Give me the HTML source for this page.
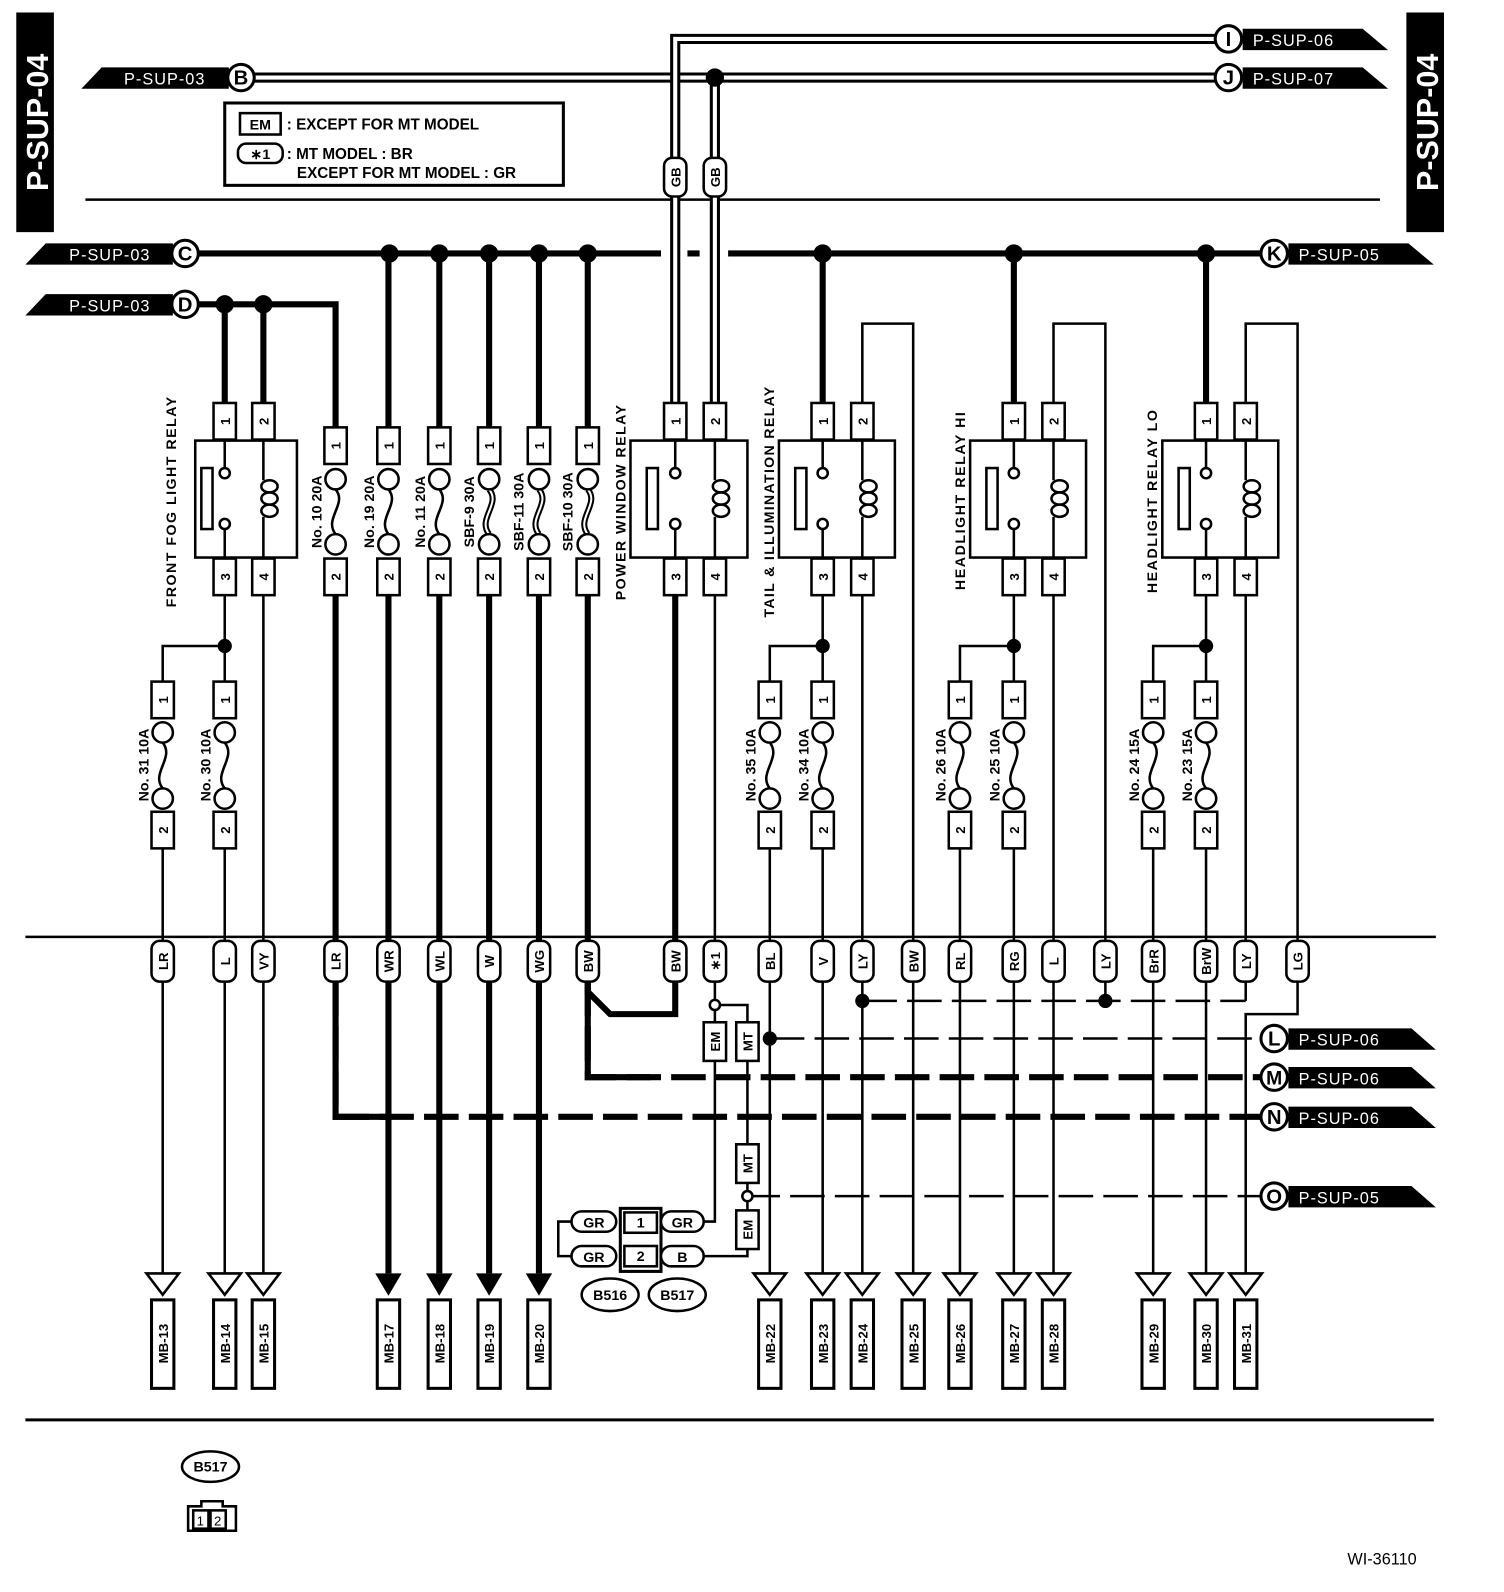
<!DOCTYPE html>
<html><head><meta charset="utf-8"><style>
html,body{margin:0;padding:0;background:#fff}
svg{display:block}
text{font-family:"Liberation Sans",sans-serif;font-weight:bold;fill:#000}
.t{stroke:#000;stroke-width:2.5;fill:none}
.k{stroke:#000;stroke-width:6;fill:none}
.w{fill:#fff;stroke:#000;stroke-width:2.5}
.d{stroke-dasharray:34 10}
.n{font-size:13px}
.s{font-size:14px}
.tag{font-size:16px;font-weight:normal;fill:#fff;letter-spacing:1px}
</style></head><body>
<svg width="1504" height="1592" viewBox="0 0 1479 1565" xmlns="http://www.w3.org/2000/svg">
<rect x="16" y="12" width="37" height="216" fill="#000"/>
<text transform="translate(47,120) rotate(-90)" text-anchor="middle" style="font-size:30px;fill:#fff">P-SUP-04</text>
<rect x="1383" y="12" width="37" height="216" fill="#000"/>
<text transform="translate(1414,120) rotate(-90)" text-anchor="middle" style="font-size:30px;fill:#fff">P-SUP-04</text>

<rect x="221" y="101" width="333" height="81" fill="none" stroke="#000" stroke-width="3"/>
<rect x="236" y="111" width="40" height="21" fill="none" stroke="#000" stroke-width="2.5"/>
<text x="256" y="127" text-anchor="middle" style="font-size:14px">EM</text>
<text x="282" y="127" style="font-size:15px">: EXCEPT FOR MT MODEL</text>
<rect x="234" y="141" width="44" height="19" rx="8" fill="none" stroke="#000" stroke-width="2.5"/>
<text x="256" y="156" text-anchor="middle" style="font-size:14px">∗1</text>
<text x="282" y="156" style="font-size:15px">: MT MODEL  : BR</text>
<text x="292" y="175" style="font-size:15px">EXCEPT FOR MT MODEL  : GR</text>

<line x1="84" y1="196" x2="1357" y2="196" class="t"/>
<line x1="25" y1="921" x2="1412" y2="921" class="t"/>
<line x1="25" y1="1396" x2="1410" y2="1396" stroke="#000" stroke-width="3"/>

<polygon points="80,87 100,66 225,66 225,87" fill="#000"/>
<text x="122" y="83" class="tag">P-SUP-03</text>
<polygon points="25,260 45,239 170,239 170,260" fill="#000"/>
<text x="68" y="256" class="tag">P-SUP-03</text>
<polygon points="25,310 45,289 170,289 170,310" fill="#000"/>
<text x="68" y="306" class="tag">P-SUP-03</text>
<polygon points="1222,28 1340,28 1365,49 1222,49" fill="#000"/>
<text x="1232" y="45" class="tag">P-SUP-06</text>
<polygon points="1222,66 1340,66 1365,87 1222,87" fill="#000"/>
<text x="1232" y="83" class="tag">P-SUP-07</text>
<polygon points="1267,239 1385,239 1410,260 1267,260" fill="#000"/>
<text x="1277" y="256" class="tag">P-SUP-05</text>
<polygon points="1267,1011 1388,1011 1412,1032 1267,1032" fill="#000"/>
<text x="1277" y="1028" class="tag">P-SUP-06</text>
<polygon points="1267,1049 1388,1049 1412,1070 1267,1070" fill="#000"/>
<text x="1277" y="1066" class="tag">P-SUP-06</text>
<polygon points="1267,1088 1388,1088 1412,1109 1267,1109" fill="#000"/>
<text x="1277" y="1105" class="tag">P-SUP-06</text>
<polygon points="1267,1166 1388,1166 1412,1187 1267,1187" fill="#000"/>
<text x="1277" y="1183" class="tag">P-SUP-05</text>

<path d="M250,76 H1195" stroke="#000" stroke-width="10" fill="none"/>
<path d="M250,76 H1195" stroke="#fff" stroke-width="4" fill="none"/>
<path d="M195,249 H1240" class="k"/>
<rect x="650" y="243" width="26" height="12" fill="#fff"/>
<rect x="688" y="243" width="28" height="12" fill="#fff"/>
<path d="M195,299 H330 V420" class="k"/>
<path d="M221,299 V396 M259,299 V396" class="k"/>
<path d="M382,249 V420 M432,249 V420 M481,249 V420 M530,249 V420 M578,249 V420" class="k"/>
<path d="M809,249 V396 M997,249 V396 M1186,249 V396" class="k"/>
<path d="M1195,38 H664 V396" stroke="#000" stroke-width="10" fill="none"/>
<path d="M1195,38 H664 V396" stroke="#fff" stroke-width="4" fill="none"/>
<path d="M703,76 V396" stroke="#000" stroke-width="10" fill="none"/>
<path d="M703,82 V396" stroke="#fff" stroke-width="4" fill="none"/>
<circle cx="703" cy="76" r="9" fill="#000"/>
<rect x="653" y="155" width="22" height="38" rx="8" class="w"/>
<text transform="translate(669,174) rotate(-90)" text-anchor="middle" class="n">GB</text>
<rect x="692" y="155" width="22" height="38" rx="8" class="w"/>
<text transform="translate(708,174) rotate(-90)" text-anchor="middle" class="n">GB</text>

<g fill="#000">
<circle cx="383" cy="249" r="9"/><circle cx="432" cy="249" r="9"/><circle cx="481" cy="249" r="9"/><circle cx="530" cy="249" r="9"/><circle cx="578" cy="249" r="9"/><circle cx="809" cy="249" r="9"/><circle cx="997" cy="249" r="9"/><circle cx="1186" cy="249" r="9"/>
<circle cx="221" cy="299" r="9"/><circle cx="259" cy="299" r="9"/>
<circle cx="221" cy="635" r="7"/><circle cx="809" cy="635" r="7"/><circle cx="997" cy="635" r="7"/><circle cx="1186" cy="635" r="7"/>
<circle cx="848" cy="984" r="7"/><circle cx="1087" cy="984" r="7"/><circle cx="757" cy="1021" r="7"/>
</g>

<g>
<circle cx="237" cy="76" r="13" fill="#fff" stroke="#000" stroke-width="3"/><text x="237" y="83" text-anchor="middle" style="font-size:20px">B</text>
<circle cx="182" cy="249" r="13" fill="#fff" stroke="#000" stroke-width="3"/><text x="182" y="256" text-anchor="middle" style="font-size:20px">C</text>
<circle cx="182" cy="299" r="13" fill="#fff" stroke="#000" stroke-width="3"/><text x="182" y="306" text-anchor="middle" style="font-size:20px">D</text>
<circle cx="1208" cy="38" r="13" fill="#fff" stroke="#000" stroke-width="3"/><text x="1208" y="45" text-anchor="middle" style="font-size:20px">I</text>
<circle cx="1208" cy="76" r="13" fill="#fff" stroke="#000" stroke-width="3"/><text x="1208" y="83" text-anchor="middle" style="font-size:20px">J</text>
<circle cx="1253" cy="249" r="13" fill="#fff" stroke="#000" stroke-width="3"/><text x="1253" y="256" text-anchor="middle" style="font-size:20px">K</text>
<circle cx="1253" cy="1021" r="13" fill="#fff" stroke="#000" stroke-width="3"/><text x="1253" y="1028" text-anchor="middle" style="font-size:20px">L</text>
<circle cx="1253" cy="1059" r="13" fill="#fff" stroke="#000" stroke-width="3"/><text x="1253" y="1066" text-anchor="middle" style="font-size:19px">M</text>
<circle cx="1253" cy="1098" r="13" fill="#fff" stroke="#000" stroke-width="3"/><text x="1253" y="1105" text-anchor="middle" style="font-size:20px">N</text>
<circle cx="1253" cy="1176" r="13" fill="#fff" stroke="#000" stroke-width="3"/><text x="1253" y="1183" text-anchor="middle" style="font-size:20px">O</text>
</g>

<path d="M848,396 V318 H898 V925 M1036,396 V318 H1087 V925 M1225,396 V318 H1276 V925" class="t"/>
<path d="M221,585 V670 M221,635 H160 V670 M259,585 V925" class="t"/>
<path d="M809,585 V670 M809,635 H757 V670 M848,585 V925" class="t"/>
<path d="M997,585 V670 M997,635 H944 V670 M1036,585 V925" class="t"/>
<path d="M1186,585 V670 M1186,635 H1134 V670 M1225,585 V925" class="t"/>
<path d="M160,834 V925 M221,834 V925 M757,834 V925 M809,834 V925 M944,834 V925 M997,834 V925 M1134,834 V925 M1186,834 V925" class="t"/>
<path d="M330,585 V925 M382,585 V925 M432,585 V925 M481,585 V925 M530,585 V925 M578,585 V925 M664,585 V925" class="k"/>
<path d="M703,585 V925" class="t"/>

<g class="t">
<rect x="192" y="433" width="100" height="115"/><rect x="620" y="433" width="115" height="115"/><rect x="766" y="433" width="114" height="115"/><rect x="954" y="433" width="114" height="115"/><rect x="1143" y="433" width="114" height="115"/>
<rect x="198" y="460" width="11" height="60"/><rect x="636" y="460" width="11" height="60"/><rect x="782" y="460" width="11" height="60"/><rect x="970" y="460" width="11" height="60"/><rect x="1159" y="460" width="11" height="60"/>
<path d="M221,433 V460 M221,520 V548 M259,433 V472 M259,508 V548"/>
<path d="M664,433 V460 M664,520 V548 M703,433 V472 M703,508 V548"/>
<path d="M809,433 V460 M809,520 V548 M848,433 V472 M848,508 V548"/>
<path d="M997,433 V460 M997,520 V548 M1036,433 V472 M1036,508 V548"/>
<path d="M1186,433 V460 M1186,520 V548 M1225,433 V472 M1225,508 V548"/>
</g>
<g class="w">
<circle cx="221" cy="465" r="5"/><circle cx="221" cy="515" r="5"/><circle cx="664" cy="465" r="5"/><circle cx="664" cy="515" r="5"/><circle cx="809" cy="465" r="5"/><circle cx="809" cy="515" r="5"/><circle cx="997" cy="465" r="5"/><circle cx="997" cy="515" r="5"/><circle cx="1186" cy="465" r="5"/><circle cx="1186" cy="515" r="5"/>
<ellipse cx="265" cy="478" rx="8" ry="6"/><ellipse cx="265" cy="490" rx="8" ry="6"/><ellipse cx="265" cy="502" rx="8" ry="6"/>
<ellipse cx="709" cy="478" rx="8" ry="6"/><ellipse cx="709" cy="490" rx="8" ry="6"/><ellipse cx="709" cy="502" rx="8" ry="6"/>
<ellipse cx="854" cy="478" rx="8" ry="6"/><ellipse cx="854" cy="490" rx="8" ry="6"/><ellipse cx="854" cy="502" rx="8" ry="6"/>
<ellipse cx="1042" cy="478" rx="8" ry="6"/><ellipse cx="1042" cy="490" rx="8" ry="6"/><ellipse cx="1042" cy="502" rx="8" ry="6"/>
<ellipse cx="1231" cy="478" rx="8" ry="6"/><ellipse cx="1231" cy="490" rx="8" ry="6"/><ellipse cx="1231" cy="502" rx="8" ry="6"/>
</g>
<g class="w">
<rect x="210" y="396" width="22" height="36"/><rect x="248" y="396" width="22" height="36"/><rect x="210" y="549" width="22" height="36"/><rect x="248" y="549" width="22" height="36"/>
<rect x="653" y="396" width="22" height="36"/><rect x="692" y="396" width="22" height="36"/><rect x="653" y="549" width="22" height="36"/><rect x="692" y="549" width="22" height="36"/>
<rect x="798" y="396" width="22" height="36"/><rect x="837" y="396" width="22" height="36"/><rect x="798" y="549" width="22" height="36"/><rect x="837" y="549" width="22" height="36"/>
<rect x="986" y="396" width="22" height="36"/><rect x="1025" y="396" width="22" height="36"/><rect x="986" y="549" width="22" height="36"/><rect x="1025" y="549" width="22" height="36"/>
<rect x="1175" y="396" width="22" height="36"/><rect x="1214" y="396" width="22" height="36"/><rect x="1175" y="549" width="22" height="36"/><rect x="1214" y="549" width="22" height="36"/>
</g>
<g class="n" text-anchor="middle">
<text transform="translate(226,414) rotate(-90)">1</text><text transform="translate(264,414) rotate(-90)">2</text><text transform="translate(226,567) rotate(-90)">3</text><text transform="translate(264,567) rotate(-90)">4</text>
<text transform="translate(669,414) rotate(-90)">1</text><text transform="translate(708,414) rotate(-90)">2</text><text transform="translate(669,567) rotate(-90)">3</text><text transform="translate(708,567) rotate(-90)">4</text>
<text transform="translate(814,414) rotate(-90)">1</text><text transform="translate(853,414) rotate(-90)">2</text><text transform="translate(814,567) rotate(-90)">3</text><text transform="translate(853,567) rotate(-90)">4</text>
<text transform="translate(1002,414) rotate(-90)">1</text><text transform="translate(1041,414) rotate(-90)">2</text><text transform="translate(1002,567) rotate(-90)">3</text><text transform="translate(1041,567) rotate(-90)">4</text>
<text transform="translate(1191,414) rotate(-90)">1</text><text transform="translate(1230,414) rotate(-90)">2</text><text transform="translate(1191,567) rotate(-90)">3</text><text transform="translate(1230,567) rotate(-90)">4</text>
</g>
<g class="s">
<text transform="translate(173,597) rotate(-90)" textLength="207">FRONT FOG LIGHT RELAY</text>
<text transform="translate(615,590) rotate(-90)" textLength="192">POWER WINDOW RELAY</text>
<text transform="translate(761,607) rotate(-90)" textLength="227">TAIL &amp; ILLUMINATION RELAY</text>
<text transform="translate(949,580) rotate(-90)" textLength="175">HEADLIGHT RELAY HI</text>
<text transform="translate(1138,583) rotate(-90)" textLength="180">HEADLIGHT RELAY LO</text>
</g>

<path d="M330,481 C342,495 318,510 330,525 M382,481 C394,495 370,510 382,525 M432,481 C444,495 420,510 432,525" class="t"/>
<path d="M481,481 C493,495 469,510 481,525 M530,481 C542,495 518,510 530,525 M578,481 C590,495 566,510 578,525" stroke="#000" stroke-width="6" fill="none"/>
<path d="M481,481 C493,495 469,510 481,525 M530,481 C542,495 518,510 530,525 M578,481 C590,495 566,510 578,525" stroke="#fff" stroke-width="2" fill="none"/>
<g class="w">
<circle cx="330" cy="471" r="10"/><circle cx="330" cy="535" r="10"/><circle cx="382" cy="471" r="10"/><circle cx="382" cy="535" r="10"/><circle cx="432" cy="471" r="10"/><circle cx="432" cy="535" r="10"/><circle cx="481" cy="471" r="10"/><circle cx="481" cy="535" r="10"/><circle cx="530" cy="471" r="10"/><circle cx="530" cy="535" r="10"/><circle cx="578" cy="471" r="10"/><circle cx="578" cy="535" r="10"/>
<rect x="319" y="420" width="22" height="36"/><rect x="371" y="420" width="22" height="36"/><rect x="421" y="420" width="22" height="36"/><rect x="470" y="420" width="22" height="36"/><rect x="519" y="420" width="22" height="36"/><rect x="567" y="420" width="22" height="36"/>
<rect x="319" y="549" width="22" height="36"/><rect x="371" y="549" width="22" height="36"/><rect x="421" y="549" width="22" height="36"/><rect x="470" y="549" width="22" height="36"/><rect x="519" y="549" width="22" height="36"/><rect x="567" y="549" width="22" height="36"/>
</g>
<g class="n" text-anchor="middle">
<text transform="translate(335,438) rotate(-90)">1</text><text transform="translate(387,438) rotate(-90)">1</text><text transform="translate(437,438) rotate(-90)">1</text><text transform="translate(486,438) rotate(-90)">1</text><text transform="translate(535,438) rotate(-90)">1</text><text transform="translate(583,438) rotate(-90)">1</text>
<text transform="translate(335,567) rotate(-90)">2</text><text transform="translate(387,567) rotate(-90)">2</text><text transform="translate(437,567) rotate(-90)">2</text><text transform="translate(486,567) rotate(-90)">2</text><text transform="translate(535,567) rotate(-90)">2</text><text transform="translate(583,567) rotate(-90)">2</text>
</g>
<g class="s" text-anchor="middle">
<text transform="translate(316,503) rotate(-90)">No. 10 20A</text>
<text transform="translate(368,503) rotate(-90)">No. 19 20A</text>
<text transform="translate(418,503) rotate(-90)">No. 11 20A</text>
<text transform="translate(466,503) rotate(-90)">SBF-9 30A</text>
<text transform="translate(515,503) rotate(-90)">SBF-11 30A</text>
<text transform="translate(563,503) rotate(-90)">SBF-10 30A</text>
</g>

<path d="M160,730 C172,745 148,760 160,775 M221,730 C233,745 209,760 221,775 M757,730 C769,745 745,760 757,775 M809,730 C821,745 797,760 809,775 M944,730 C956,745 932,760 944,775 M997,730 C1009,745 985,760 997,775 M1134,730 C1146,745 1122,760 1134,775 M1186,730 C1198,745 1174,760 1186,775" class="t"/>
<g class="w">
<circle cx="160" cy="720" r="10"/><circle cx="160" cy="785" r="10"/><circle cx="221" cy="720" r="10"/><circle cx="221" cy="785" r="10"/>
<circle cx="757" cy="720" r="10"/><circle cx="757" cy="785" r="10"/><circle cx="809" cy="720" r="10"/><circle cx="809" cy="785" r="10"/>
<circle cx="944" cy="720" r="10"/><circle cx="944" cy="785" r="10"/><circle cx="997" cy="720" r="10"/><circle cx="997" cy="785" r="10"/>
<circle cx="1134" cy="720" r="10"/><circle cx="1134" cy="785" r="10"/><circle cx="1186" cy="720" r="10"/><circle cx="1186" cy="785" r="10"/>
<rect x="149" y="670" width="22" height="36"/><rect x="210" y="670" width="22" height="36"/><rect x="746" y="670" width="22" height="36"/><rect x="798" y="670" width="22" height="36"/><rect x="933" y="670" width="22" height="36"/><rect x="986" y="670" width="22" height="36"/><rect x="1123" y="670" width="22" height="36"/><rect x="1175" y="670" width="22" height="36"/>
<rect x="149" y="798" width="22" height="36"/><rect x="210" y="798" width="22" height="36"/><rect x="746" y="798" width="22" height="36"/><rect x="798" y="798" width="22" height="36"/><rect x="933" y="798" width="22" height="36"/><rect x="986" y="798" width="22" height="36"/><rect x="1123" y="798" width="22" height="36"/><rect x="1175" y="798" width="22" height="36"/>
</g>
<g class="n" text-anchor="middle">
<text transform="translate(165,688) rotate(-90)">1</text><text transform="translate(226,688) rotate(-90)">1</text><text transform="translate(762,688) rotate(-90)">1</text><text transform="translate(814,688) rotate(-90)">1</text><text transform="translate(949,688) rotate(-90)">1</text><text transform="translate(1002,688) rotate(-90)">1</text><text transform="translate(1139,688) rotate(-90)">1</text><text transform="translate(1191,688) rotate(-90)">1</text>
<text transform="translate(165,816) rotate(-90)">2</text><text transform="translate(226,816) rotate(-90)">2</text><text transform="translate(762,816) rotate(-90)">2</text><text transform="translate(814,816) rotate(-90)">2</text><text transform="translate(949,816) rotate(-90)">2</text><text transform="translate(1002,816) rotate(-90)">2</text><text transform="translate(1139,816) rotate(-90)">2</text><text transform="translate(1191,816) rotate(-90)">2</text>
</g>
<g class="s" text-anchor="middle">
<text transform="translate(146,752) rotate(-90)">No. 31 10A</text>
<text transform="translate(207,752) rotate(-90)">No. 30 10A</text>
<text transform="translate(743,752) rotate(-90)">No. 35 10A</text>
<text transform="translate(795,752) rotate(-90)">No. 34 10A</text>
<text transform="translate(930,752) rotate(-90)">No. 26 10A</text>
<text transform="translate(983,752) rotate(-90)">No. 25 10A</text>
<text transform="translate(1120,752) rotate(-90)">No. 24 15A</text>
<text transform="translate(1172,752) rotate(-90)">No. 23 15A</text>
</g>

<path d="M160,965 V1252 M221,965 V1252 M259,965 V1252" class="t"/>
<path d="M382,965 V1252 M432,965 V1252 M481,965 V1252 M530,965 V1252" class="k"/>
<path d="M330,965 V1098 H1240 M578,965 V1059 H1240" class="k d"/>
<path d="M330,965 V1098 H380 M578,965 V1059 H640" class="k"/>
<path d="M578,965 V975 L600,997 H664 V965" class="k"/>
<path d="M757,965 V1252 M809,965 V1252 M848,965 V1252 M898,965 V1252 M944,965 V1252 M997,965 V1252 M1036,965 V1252 M1134,965 V1252 M1186,965 V1252" class="t"/>
<path d="M1087,965 V984 M1225,965 V984 M1276,965 V997 H1225 V1252" class="t"/>
<path d="M848,984 H1225 M757,1021 H1240 M733,1176 H1240" class="t d"/>
<path d="M703,965 V983 M708,988 H735 V1005 M703,993 V1005 M703,1043 V1201 H692 M735,1043 V1125 M735,1163 V1171 M735,1181 V1190 M735,1228 V1235 H692 M562,1201 H549 V1235 H562" class="t"/>
<circle cx="703" cy="988" r="5" class="w"/><circle cx="735" cy="1176" r="5" class="w"/>
<g class="w">
<rect x="692" y="1005" width="22" height="38"/><rect x="724" y="1005" width="22" height="38"/><rect x="724" y="1125" width="22" height="38"/><rect x="724" y="1190" width="22" height="38"/>
</g>
<g class="n" text-anchor="middle">
<text transform="translate(708,1024) rotate(-90)">EM</text><text transform="translate(740,1024) rotate(-90)">MT</text><text transform="translate(740,1144) rotate(-90)">MT</text><text transform="translate(740,1209) rotate(-90)">EM</text>
</g>
<rect x="610" y="1188" width="40" height="62" fill="#fff" stroke="#000" stroke-width="3"/>
<rect x="614" y="1192" width="32" height="20" class="w"/><rect x="614" y="1225" width="32" height="20" class="w"/>
<text x="630" y="1207" text-anchor="middle" class="s">1</text><text x="630" y="1240" text-anchor="middle" class="s">2</text>
<rect x="562" y="1191" width="44" height="20" rx="10" class="w"/><text x="584" y="1207" text-anchor="middle" class="s">GR</text>
<rect x="562" y="1225" width="44" height="20" rx="10" class="w"/><text x="584" y="1241" text-anchor="middle" class="s">GR</text>
<rect x="650" y="1191" width="42" height="20" rx="10" class="w"/><text x="671" y="1207" text-anchor="middle" class="s">GR</text>
<rect x="650" y="1225" width="42" height="20" rx="10" class="w"/><text x="671" y="1241" text-anchor="middle" class="s">B</text>
<ellipse cx="600" cy="1273" rx="28" ry="16" class="w"/><text x="600" y="1278" text-anchor="middle" class="s">B516</text>
<ellipse cx="666" cy="1273" rx="28" ry="16" class="w"/><text x="666" y="1278" text-anchor="middle" class="s">B517</text>

<g class="w">
<rect x="149" y="925" width="22" height="40" rx="8"/><rect x="210" y="925" width="22" height="40" rx="8"/><rect x="248" y="925" width="22" height="40" rx="8"/><rect x="319" y="925" width="22" height="40" rx="8"/><rect x="371" y="925" width="22" height="40" rx="8"/><rect x="421" y="925" width="22" height="40" rx="8"/><rect x="470" y="925" width="22" height="40" rx="8"/><rect x="519" y="925" width="22" height="40" rx="8"/><rect x="567" y="925" width="22" height="40" rx="8"/><rect x="653" y="925" width="22" height="40" rx="8"/><rect x="692" y="925" width="22" height="40" rx="8"/><rect x="746" y="925" width="22" height="40" rx="8"/><rect x="798" y="925" width="22" height="40" rx="8"/><rect x="837" y="925" width="22" height="40" rx="8"/><rect x="887" y="925" width="22" height="40" rx="8"/><rect x="933" y="925" width="22" height="40" rx="8"/><rect x="986" y="925" width="22" height="40" rx="8"/><rect x="1025" y="925" width="22" height="40" rx="8"/><rect x="1076" y="925" width="22" height="40" rx="8"/><rect x="1123" y="925" width="22" height="40" rx="8"/><rect x="1175" y="925" width="22" height="40" rx="8"/><rect x="1214" y="925" width="22" height="40" rx="8"/><rect x="1265" y="925" width="22" height="40" rx="8"/>
</g>
<g class="n" text-anchor="middle">
<text transform="translate(165,945) rotate(-90)">LR</text><text transform="translate(226,945) rotate(-90)">L</text><text transform="translate(264,945) rotate(-90)">VY</text><text transform="translate(335,945) rotate(-90)">LR</text><text transform="translate(387,945) rotate(-90)">WR</text><text transform="translate(437,945) rotate(-90)">WL</text><text transform="translate(486,945) rotate(-90)">W</text><text transform="translate(535,945) rotate(-90)">WG</text><text transform="translate(583,945) rotate(-90)">BW</text><text transform="translate(669,945) rotate(-90)">BW</text><text transform="translate(708,945) rotate(-90)">∗1</text><text transform="translate(762,945) rotate(-90)">BL</text><text transform="translate(814,945) rotate(-90)">V</text><text transform="translate(853,945) rotate(-90)">LY</text><text transform="translate(903,945) rotate(-90)">BW</text><text transform="translate(949,945) rotate(-90)">RL</text><text transform="translate(1002,945) rotate(-90)">RG</text><text transform="translate(1041,945) rotate(-90)">L</text><text transform="translate(1092,945) rotate(-90)">LY</text><text transform="translate(1139,945) rotate(-90)">BrR</text><text transform="translate(1191,945) rotate(-90)">BrW</text><text transform="translate(1230,945) rotate(-90)">LY</text><text transform="translate(1281,945) rotate(-90)">LG</text>
</g>

<g class="w">
<polygon points="144,1252 176,1252 160,1273"/><polygon points="205,1252 237,1252 221,1273"/><polygon points="243,1252 275,1252 259,1273"/>
<polygon points="741,1252 773,1252 757,1273"/><polygon points="793,1252 825,1252 809,1273"/><polygon points="832,1252 864,1252 848,1273"/><polygon points="882,1252 914,1252 898,1273"/><polygon points="928,1252 960,1252 944,1273"/><polygon points="981,1252 1013,1252 997,1273"/><polygon points="1020,1252 1052,1252 1036,1273"/><polygon points="1118,1252 1150,1252 1134,1273"/><polygon points="1170,1252 1202,1252 1186,1273"/><polygon points="1209,1252 1241,1252 1225,1273"/>
</g>
<g fill="#000">
<polygon points="369,1252 395,1252 382,1274"/><polygon points="419,1252 445,1252 432,1274"/><polygon points="468,1252 494,1252 481,1274"/><polygon points="517,1252 543,1252 530,1274"/>
</g>
<g fill="#fff" stroke="#000" stroke-width="3">
<rect x="149" y="1278" width="22" height="87"/><rect x="210" y="1278" width="22" height="87"/><rect x="248" y="1278" width="22" height="87"/><rect x="371" y="1278" width="22" height="87"/><rect x="421" y="1278" width="22" height="87"/><rect x="470" y="1278" width="22" height="87"/><rect x="519" y="1278" width="22" height="87"/><rect x="746" y="1278" width="22" height="87"/><rect x="798" y="1278" width="22" height="87"/><rect x="837" y="1278" width="22" height="87"/><rect x="887" y="1278" width="22" height="87"/><rect x="933" y="1278" width="22" height="87"/><rect x="986" y="1278" width="22" height="87"/><rect x="1025" y="1278" width="22" height="87"/><rect x="1123" y="1278" width="22" height="87"/><rect x="1175" y="1278" width="22" height="87"/><rect x="1214" y="1278" width="22" height="87"/>
</g>
<g class="n" text-anchor="middle">
<text transform="translate(165,1321) rotate(-90)">MB-13</text><text transform="translate(226,1321) rotate(-90)">MB-14</text><text transform="translate(264,1321) rotate(-90)">MB-15</text><text transform="translate(387,1321) rotate(-90)">MB-17</text><text transform="translate(437,1321) rotate(-90)">MB-18</text><text transform="translate(486,1321) rotate(-90)">MB-19</text><text transform="translate(535,1321) rotate(-90)">MB-20</text><text transform="translate(762,1321) rotate(-90)">MB-22</text><text transform="translate(814,1321) rotate(-90)">MB-23</text><text transform="translate(853,1321) rotate(-90)">MB-24</text><text transform="translate(903,1321) rotate(-90)">MB-25</text><text transform="translate(949,1321) rotate(-90)">MB-26</text><text transform="translate(1002,1321) rotate(-90)">MB-27</text><text transform="translate(1041,1321) rotate(-90)">MB-28</text><text transform="translate(1139,1321) rotate(-90)">MB-29</text><text transform="translate(1191,1321) rotate(-90)">MB-30</text><text transform="translate(1230,1321) rotate(-90)">MB-31</text>
</g>

<ellipse cx="207" cy="1442" rx="28" ry="15" class="w"/><text x="207" y="1447" text-anchor="middle" class="s">B517</text>
<path d="M185,1505 V1481 H198 V1476 H219 V1481 H232 V1505 Z" class="t" stroke-width="2"/>
<rect x="190" y="1485" width="15" height="18" class="t" stroke-width="1.5"/><rect x="207" y="1485" width="15" height="18" class="t" stroke-width="1.5"/>
<text x="197" y="1500" text-anchor="middle" style="font-size:13px;font-weight:normal">1</text><text x="214" y="1500" text-anchor="middle" style="font-size:13px;font-weight:normal">2</text>
<text x="1325" y="1538" style="font-size:16px;font-weight:normal">WI-36110</text>
</svg>
</body></html>
